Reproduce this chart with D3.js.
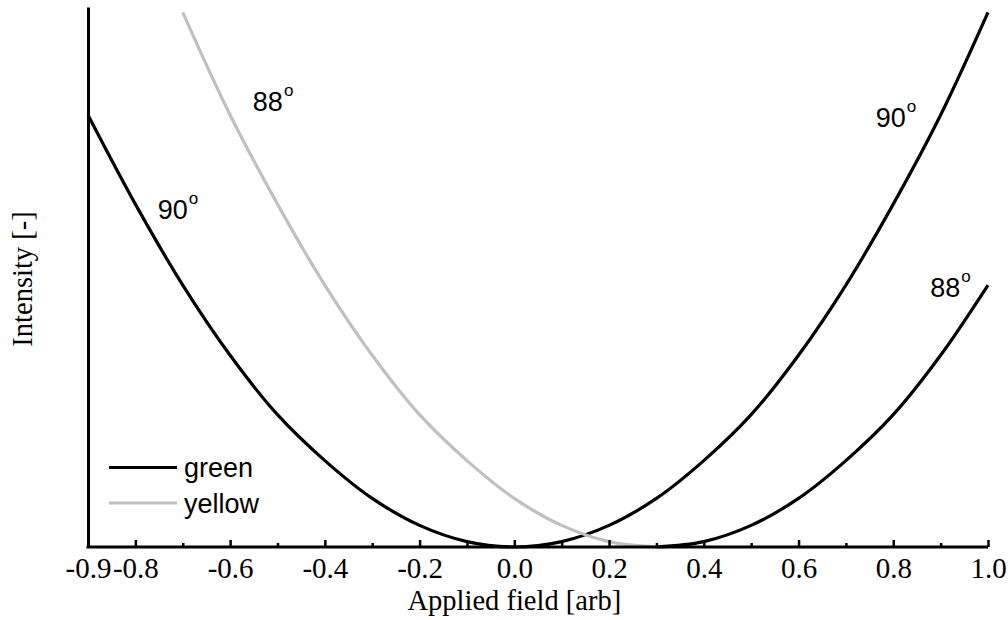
<!DOCTYPE html>
<html>
<head>
<meta charset="utf-8">
<script src="https://cdn.jsdelivr.net/npm/d3@7"></script>
<style>
  body { margin: 0; background: #fff; }
  svg { display: block; }
</style>
</head>
<body>
<div id="chart"></div>
<script>
// readings taken off the reference plot
const field90 = [-0.9, -0.8, -0.7, -0.6, -0.5, -0.4, -0.3, -0.2, -0.1, 0.0,
                 0.1, 0.2, 0.3, 0.4, 0.5, 0.6, 0.7, 0.8, 0.9, 1.0];
const green90 = [0.80, 0.635, 0.485, 0.355, 0.245, 0.16, 0.09, 0.04, 0.01, 0.0,
                 0.01, 0.04, 0.09, 0.16, 0.245, 0.355, 0.485, 0.635, 0.80, 0.99];

const fieldYellow88 = [-0.7, -0.6, -0.5, -0.4, -0.3, -0.2, -0.1, 0.0, 0.1, 0.2, 0.3];
const yellow88 = [0.99, 0.80, 0.635, 0.485, 0.355, 0.245, 0.16, 0.09, 0.04, 0.01, 0.0];

const fieldGreen88 = [0.3, 0.4, 0.5, 0.6, 0.7, 0.8, 0.9, 1.0];
const green88 = [0.0, 0.01, 0.04, 0.09, 0.16, 0.245, 0.355, 0.485];

const majorTicks = [-0.9, -0.8, -0.6, -0.4, -0.2, 0.0, 0.2, 0.4, 0.6, 0.8, 1.0];
const minorTicks = [-0.7, -0.5, -0.3, -0.1, 0.1, 0.3, 0.5, 0.7, 0.9];

const annotations = [
  { label: "88", field: -0.552, intensity: 0.807 },
  { label: "90", field: -0.753, intensity: 0.607 },
  { label: "90", field: 0.763, intensity: 0.778 },
  { label: "88", field: 0.878, intensity: 0.463 }
];

const legendItems = [
  { name: "green", color: "#000" },
  { name: "yellow", color: "#c0c0c0" }
];

const width = 1008, height = 620;
const serif = "'Liberation Serif', 'Times New Roman', serif";
const sans = "'Liberation Sans', Arial, sans-serif";

const svg = d3.select("#chart").append("svg")
  .attr("width", width)
  .attr("height", height);

const x = d3.scaleLinear().domain([-0.9, 1.0]).range([88, 988]);
const y = d3.scaleLinear().domain([0, 1]).range([547, 7]);

const toPoints = (fs, vs) => fs.map((f, i) => ({ field: f, intensity: vs[i] }));

const line = d3.line()
  .x(d => x(d.field))
  .y(d => y(d.intensity))
  .curve(d3.curveCatmullRom);

// curves
svg.append("path")
  .datum(toPoints(field90, green90))
  .attr("d", line)
  .attr("fill", "none")
  .attr("stroke", "#000")
  .attr("stroke-width", 3.2);

svg.append("path")
  .datum(toPoints(fieldGreen88, green88))
  .attr("d", line)
  .attr("fill", "none")
  .attr("stroke", "#000")
  .attr("stroke-width", 3.2);

svg.append("path")
  .datum(toPoints(fieldYellow88, yellow88))
  .attr("d", line)
  .attr("fill", "none")
  .attr("stroke", "#c0c0c0")
  .attr("stroke-width", 3.2);

// x axis: minor ticks, then major ticks with labels
svg.append("g")
  .attr("transform", `translate(0, ${y(0)})`)
  .call(d3.axisBottom(x).tickValues(minorTicks).tickSize(-4).tickSizeOuter(0).tickFormat(""))
  .call(g => g.select(".domain").remove())
  .call(g => g.selectAll(".tick line").attr("stroke-width", 2.5));

const xAxis = svg.append("g")
  .attr("transform", `translate(0, ${y(0)})`)
  .call(d3.axisBottom(x).tickValues(majorTicks).tickSize(-7).tickSizeOuter(0)
    .tickFormat(d => d.toFixed(1)));

xAxis.select(".domain").attr("stroke-width", 3).attr("d", `M${x(-0.9) - 1.5},0H${x(1.0)}`);
xAxis.selectAll(".tick line").attr("stroke-width", 2.5);
xAxis.selectAll(".tick text")
  .attr("y", 31)
  .attr("dy", null)
  .attr("fill", "#000")
  .style("font-family", serif)
  .style("font-size", "29px");

// y axis: plain line, no ticks
const yAxis = svg.append("g")
  .attr("transform", `translate(${x(-0.9)}, 0)`)
  .call(d3.axisLeft(y).tickValues([]).tickSizeOuter(0));
yAxis.select(".domain").attr("stroke-width", 3);

// axis titles
svg.append("text")
  .attr("x", x(0))
  .attr("y", 610)
  .attr("text-anchor", "middle")
  .style("font-family", serif)
  .style("font-size", "28.5px")
  .text("Applied field [arb]");

svg.append("text")
  .attr("transform", `translate(32, 279) rotate(-90)`)
  .attr("text-anchor", "middle")
  .style("font-family", serif)
  .style("font-size", "28.5px")
  .text("Intensity [-]");

// angle labels
const ann = svg.append("g")
  .selectAll("text")
  .data(annotations)
  .join("text")
  .attr("x", d => x(d.field))
  .attr("y", d => y(d.intensity))
  .style("font-family", sans)
  .style("font-size", "27px");

ann.append("tspan").text(d => d.label);
ann.append("tspan")
  .attr("dx", 1)
  .attr("dy", -15)
  .style("font-size", "17px")
  .text("o");

// legend
const legend = svg.append("g")
  .selectAll("g")
  .data(legendItems)
  .join("g")
  .attr("transform", (d, i) => `translate(109, ${467.5 + i * 35.5})`);

legend.append("line")
  .attr("x1", 0)
  .attr("x2", 68)
  .attr("stroke", d => d.color)
  .attr("stroke-width", 3.2);

legend.append("text")
  .attr("x", 75)
  .attr("y", 9.5)
  .style("font-family", sans)
  .style("font-size", "27px")
  .text(d => d.name);
</script>
</body>
</html>
